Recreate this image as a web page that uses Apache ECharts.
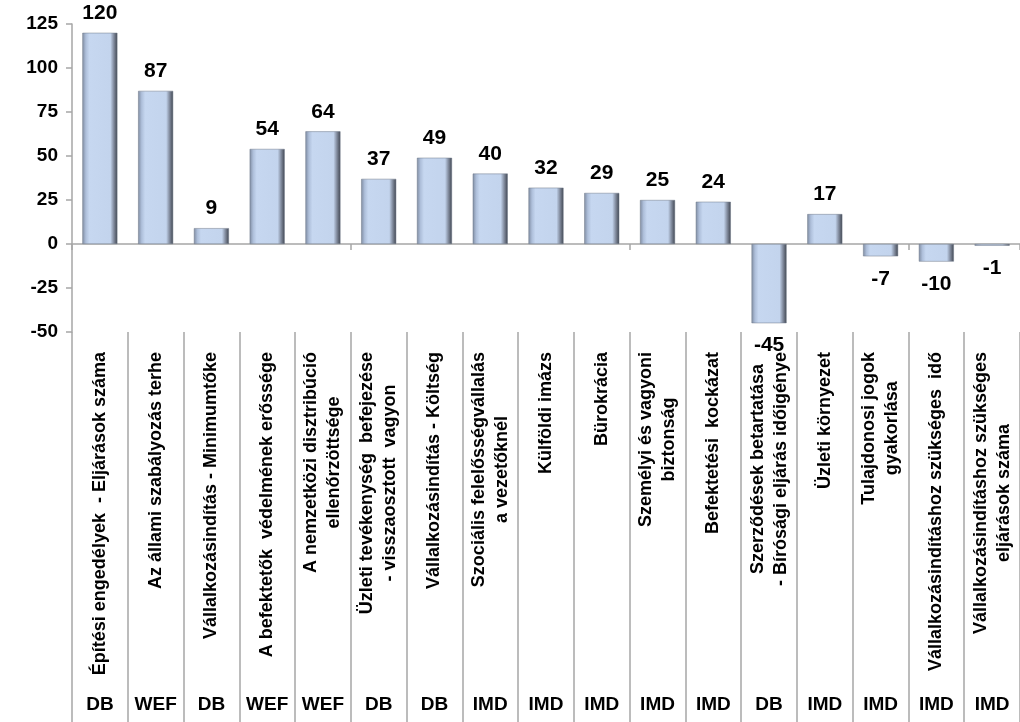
<!DOCTYPE html>
<html>
<head>
<meta charset="utf-8">
<script src="https://cdn.jsdelivr.net/npm/echarts@6/dist/echarts.min.js"></script>
<style>
  html, body { margin: 0; padding: 0; background: #fff; }
  #chart { width: 1020px; height: 722px; }
</style>
</head>
<body>
<div id="chart"></div>
<script>
const categories = [
  'Építési engedélyek  - Eljárások száma',
  'Az állami szabályozás terhe',
  'Vállalkozásindítás - Minimumtőke',
  'A befektetők  védelmének erőssége',
  'A nemzetközi disztribúció\nellenőrzöttsége',
  'Üzleti tevékenység  befejezése\n- visszaosztott  vagyon',
  'Vállalkozásindítás - Költség',
  'Szociális felelősségvállalás\na vezetőknél',
  'Külföldi imázs',
  'Bürokrácia',
  'Személyi és vagyoni\nbiztonság',
  'Befektetési  kockázat',
  'Szerződések betartatása\n- Bírósági eljárás időigénye',
  'Üzleti környezet',
  'Tulajdonosi jogok\ngyakorlása',
  'Vállalkozásindításhoz szükséges  idő',
  'Vállalkozásindításhoz szükséges\neljárások száma'
]
const sources = ['DB', 'WEF', 'DB', 'WEF', 'WEF', 'DB', 'DB', 'IMD', 'IMD', 'IMD', 'IMD', 'IMD', 'DB', 'IMD', 'IMD', 'IMD', 'IMD']
const values = [120, 87, 9, 54, 64, 37, 49, 40, 32, 29, 25, 24, -45, 17, -7, -10, -1]

const axisGray = '#a6a6a6'
const font = 'Arial, "Liberation Sans", sans-serif'
const narrow = '"Liberation Sans Narrow", "Arial Narrow", Arial, sans-serif'

const myChart = echarts.init(document.getElementById('chart'))

// bevelled look: lighter left edge, dark right edge
const barColor = new echarts.graphic.LinearGradient(0, 0, 1, 0, [
  {offset: 0, color: '#7f8ca2'},
  {offset: 0.1, color: '#aebfda'},
  {offset: 0.2, color: '#c6d7f0'},
  {offset: 0.8, color: '#c3d4ed'},
  {offset: 0.89, color: '#8791a4'},
  {offset: 1, color: '#3f4550'}
])

const option = {
  animation: false,
  grid: {left: 72, right: 0, top: 24, bottom: 390},
  xAxis: [
    {
      type: 'category',
      data: categories,
      axisLine: {onZero: true, lineStyle: {color: axisGray, width: 1.5}},
      axisTick: {show: true, length: 6, lineStyle: {color: axisGray, width: 1.5}},
      axisLabel: {show: false}
    },
    {
      type: 'category',
      data: categories,
      position: 'bottom',
      axisLine: {show: false},
      axisTick: {show: true, length: 392, lineStyle: {color: axisGray, width: 1.5}},
      axisLabel: {
        rotate: 90,
        margin: 20,
        interval: 0,
        formatter: v => v.split('\n').map(s => '{c|' + s + '}').join('\n'),
        rich: {
          c: {
            align: 'center',
            fontFamily: narrow,
            fontWeight: 'bold',
            fontSize: 18,
            lineHeight: 23,
            color: '#000'
          }
        }
      }
    },
    {
      type: 'category',
      data: sources,
      position: 'bottom',
      offset: 355,
      axisLine: {show: false},
      axisTick: {show: false},
      axisLabel: {
        interval: 0,
        margin: 8,
        fontFamily: font,
        fontWeight: 'bold',
        fontSize: 19,
        color: '#000'
      }
    }
  ],
  yAxis: {
    type: 'value',
    min: -50,
    max: 125,
    interval: 25,
    axisLine: {show: true, lineStyle: {color: axisGray, width: 1.5}},
    axisTick: {show: true, length: 6, lineStyle: {color: axisGray, width: 1.5}},
    splitLine: {show: false},
    axisLabel: {
      margin: 14,
      fontFamily: font,
      fontWeight: 'bold',
      fontSize: 19,
      color: '#000'
    }
  },
  series: [
    {
      type: 'bar',
      xAxisIndex: 0,
      barWidth: 35,
      data: values.map(v => ({
        value: v,
        label: v < 0 ? {position: 'bottom', distance: 12} : {position: 'top', distance: 9}
      })),
      itemStyle: {color: barColor, borderColor: '#6f7889', borderWidth: 0.5},
      label: {
        show: true,
        fontFamily: font,
        fontWeight: 'bold',
        fontSize: 21,
        color: '#000'
      }
    }
  ]
}

myChart.setOption(option)
</script>
</body>
</html>
